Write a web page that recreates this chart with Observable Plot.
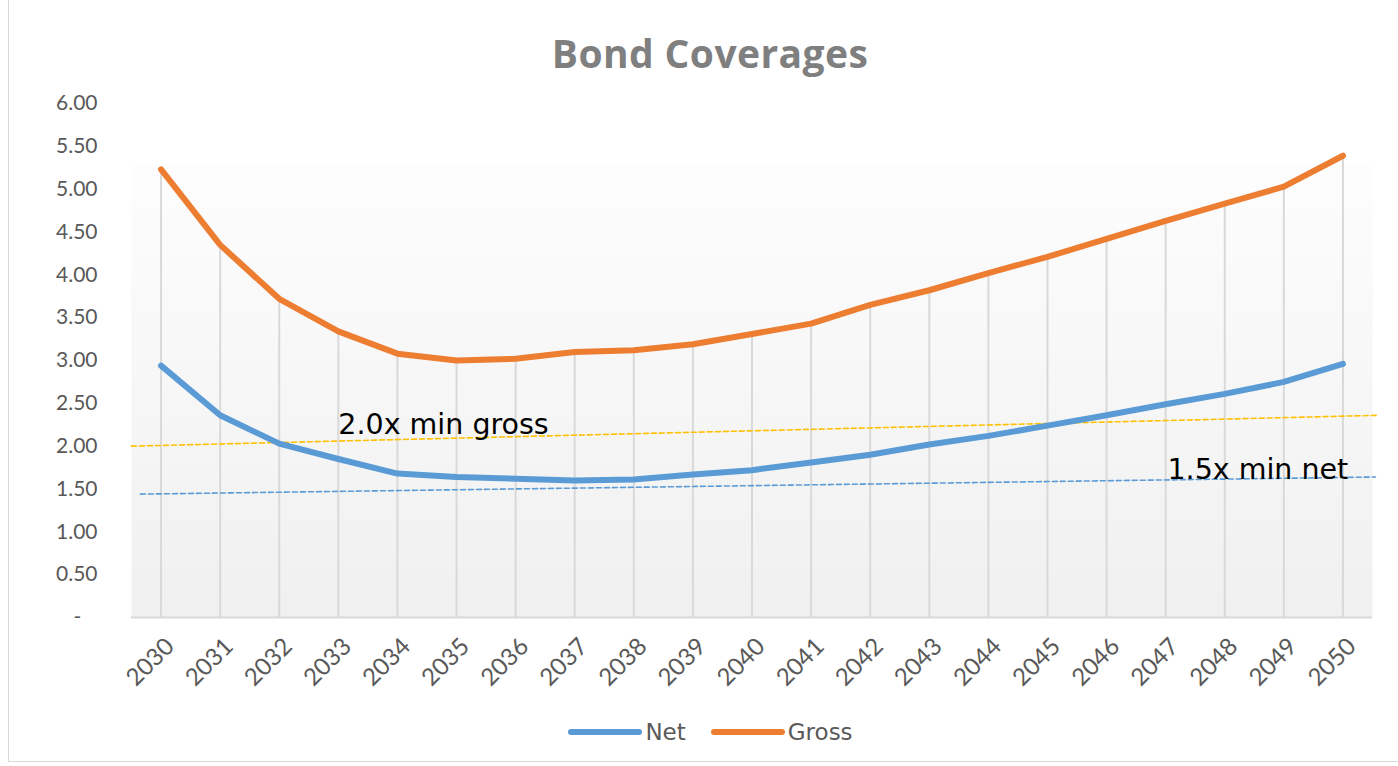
<!DOCTYPE html>
<html>
<head>
<meta charset="utf-8">
<script src="https://cdn.jsdelivr.net/npm/d3@7"></script>
<script src="https://cdn.jsdelivr.net/npm/@observablehq/plot@0.6"></script>
<style>
  html, body { margin: 0; padding: 0; background: #fff; }
  #wrap { position: relative; width: 1398px; height: 766px; overflow: hidden; font-family: "Open Sans", Lato, sans-serif; }
  #border { position: absolute; left: 8px; top: -2px; width: 1500px; height: 764px; border-left: 1.5px solid #d9d9d9; border-bottom: 1.5px solid #d9d9d9; box-sizing: border-box; }
  #title { position: absolute; left: 0; top: 7px; width: 1420px; height: 80px; text-align: center; line-height: 92px; font-size: 39px; font-weight: bold; color: #7f7f7f; font-family: "Open Sans", Lato, sans-serif; letter-spacing: 0.4px; }
  #chart { position: absolute; left: 0; top: 80px; }
  #legend { position: absolute; left: 0; top: 714px; width: 1420px; height: 36px; display: flex; justify-content: center; align-items: center; font-size: 23px; color: #595959; font-family: "DejaVu Sans", sans-serif; }
  .item { display: flex; align-items: center; margin: 0 12px; }
  .item svg { margin-right: 2px; }
</style>
</head>
<body>
<div id="wrap">
  <div id="border"></div>
  <div id="title">Bond Coverages</div>
  <div id="chart"></div>
  <div id="legend"></div>
</div>
<script>
const years = [2030,2031,2032,2033,2034,2035,2036,2037,2038,2039,2040,2041,2042,2043,2044,2045,2046,2047,2048,2049,2050];
const netValues = [2.94,2.36,2.03,1.85,1.68,1.64,1.62,1.60,1.61,1.67,1.72,1.81,1.90,2.02,2.12,2.24,2.36,2.49,2.61,2.75,2.96];
const grossValues = [5.23,4.35,3.72,3.34,3.08,3.00,3.02,3.10,3.12,3.19,3.31,3.43,3.65,3.82,4.02,4.21,4.42,4.63,4.83,5.03,5.39];
const yTicks = [0,0.5,1,1.5,2,2.5,3,3.5,4,4.5,5,5.5,6];
// hand-drawn minimum lines (x in years, y in coverage)
const grossMinX = [2029.5, 2050.58];
const grossMinY = [2.00, 2.36];
const netMinX = [2029.65, 2050.55];
const netMinY = [1.44, 1.64];
const grossLabel = {text: "2.0x min gross", x: 2033.0, y: 2.14};
const netLabel = {text: "1.5x min net", x: 2047.03, y: 1.62};
const seriesNames = ["Net", "Gross"];
const colors = {Net: "#5B9BD5", Gross: "#ED7D31", grossMin: "#FFC000"};

const rows = [];
years.forEach((yr, i) => {
  rows.push({year: yr, value: netValues[i], series: "Net"});
  rows.push({year: yr, value: grossValues[i], series: "Gross"});
});
const drops = years.map((yr, i) => ({year: yr, top: grossValues[i]}));
const gMin = grossMinX.map((x, i) => ({x, y: grossMinY[i]}));
const nMin = netMinX.map((x, i) => ({x, y: netMinY[i]}));

const plot = Plot.plot({
  width: 1398,
  height: 620,
  marginLeft: 131,
  marginRight: 26,
  marginTop: 23,
  marginBottom: 83,
  style: {fontFamily: "Lato, 'Open Sans', sans-serif", fontSize: "21px", color: "#595959", background: "transparent", overflow: "visible"},
  x: {type: "linear", domain: [2029.5, 2050.5]},
  y: {domain: [0, 6]},
  marks: [
    Plot.frame({fill: "url(#plotbg)", stroke: null}),
    Plot.ruleX(drops, {x: "year", y1: 0, y2: "top", stroke: "#d9d9d9", strokeWidth: 2}),
    Plot.ruleY([0], {stroke: "#d9d9d9", strokeWidth: 2}),
    Plot.axisY({ticks: yTicks, tickSize: 0, tickPadding: 34, label: null,
      tickFormat: d => d === 0 ? "-\u00a0\u00a0\u00a0" : d.toFixed(2), fill: "#595959"}),
    Plot.axisX({ticks: years, tickSize: 0, tickPadding: 25, tickRotate: -45, label: null, dx: 9,
      tickFormat: d => String(d), fill: "#595959", fontSize: 24}),
    Plot.line(gMin, {x: "x", y: "y", stroke: colors.grossMin, strokeWidth: 1.6, strokeDasharray: "5,3"}),
    Plot.line(nMin, {x: "x", y: "y", stroke: colors.Net, strokeWidth: 1.6, strokeDasharray: "5,3"}),
    Plot.line(rows, {x: "year", y: "value", z: "series", stroke: d => colors[d.series], strokeWidth: 6, strokeLinecap: "round", strokeLinejoin: "round"}),
    Plot.text([grossLabel], {x: "x", y: "y", text: "text", textAnchor: "start", lineAnchor: "bottom", fontSize: 28.5, fill: "#000", fontFamily: "'DejaVu Sans', sans-serif"}),
    Plot.text([netLabel], {x: "x", y: "y", text: "text", textAnchor: "start", lineAnchor: "bottom", fontSize: 28.5, fill: "#000", fontFamily: "'DejaVu Sans', sans-serif"})
  ]
});

// gradient for plot area
const ns = "http://www.w3.org/2000/svg";
const defs = document.createElementNS(ns, "defs");
const grad = document.createElementNS(ns, "linearGradient");
grad.setAttribute("id", "plotbg");
grad.setAttribute("x1", "0"); grad.setAttribute("y1", "0");
grad.setAttribute("x2", "0"); grad.setAttribute("y2", "1");
[["0", "#ffffff"], ["0.12", "#ffffff"], ["0.121", "#fdfdfd"], ["1", "#f0f0f0"]].forEach(([o, c]) => {
  const s = document.createElementNS(ns, "stop");
  s.setAttribute("offset", o); s.setAttribute("stop-color", c);
  grad.appendChild(s);
});
defs.appendChild(grad);
plot.insertBefore(defs, plot.firstChild);
document.getElementById("chart").appendChild(plot);

// legend
const legend = document.getElementById("legend");
seriesNames.forEach(name => {
  const item = document.createElement("div");
  item.className = "item";
  item.innerHTML = `<svg width="76" height="12"><line x1="4" y1="6" x2="72" y2="6" stroke="${colors[name]}" stroke-width="6" stroke-linecap="round"/></svg><span>${name}</span>`;
  legend.appendChild(item);
});
</script>
</body>
</html>
